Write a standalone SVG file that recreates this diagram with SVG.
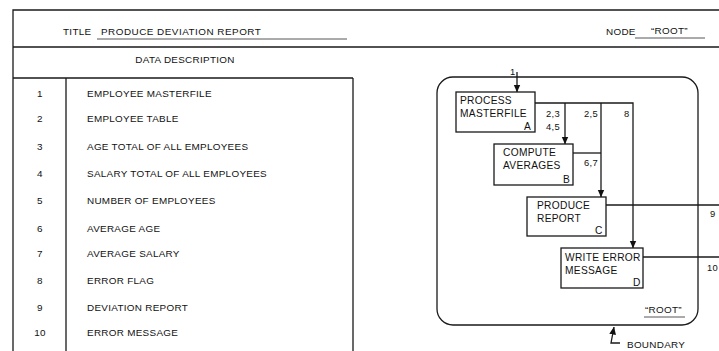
<svg xmlns="http://www.w3.org/2000/svg" width="719" height="351" viewBox="0 0 719 351">
  <defs>
    <marker id="arr" markerWidth="8" markerHeight="8" refX="7.5" refY="4" orient="auto" markerUnits="userSpaceOnUse" viewBox="0 0 8 8">
      <path d="M0,0.6 L7.8,4 L0,7.4 Z" fill="#111"/>
    </marker>
  </defs>
  <style>
    text { font-family: "Liberation Sans", Arial, sans-serif; font-size: 9.9px; fill: #111; letter-spacing: 0.3px; }
    .num { text-anchor: middle; }
    .frame { fill: none; stroke: #1a1a1a; stroke-width: 1.3; }
    .ul { fill: none; stroke: #444; stroke-width: 0.9; }
    .box { fill: #fff; stroke: #1a1a1a; stroke-width: 1.3; }
    .flow { fill: none; stroke: #1a1a1a; stroke-width: 1.3; }
    .lbl { font-size: 9.4px; }
    .dg { font-size: 10.2px; }
  </style>
  <rect width="719" height="351" fill="#fff"/>

  <!-- form frame -->
  <g id="form">
    <path class="frame" d="M13,351 V10 H719 M13,47 H719 M13,78 H353 M66,78 V351 M353,78 V351"/>
    <text x="63" y="35">TITLE</text>
    <path class="ul" d="M97,39 H347"/>
    <text x="101" y="35" style="letter-spacing:0.5px">PRODUCE DEVIATION REPORT</text>
    <text x="606" y="35">NODE</text>
    <path class="ul" d="M635,38 H705"/>
    <text x="651" y="34">“ROOT”</text>
    <text x="185" y="63" text-anchor="middle">DATA DESCRIPTION</text>
  </g>

  <!-- data description table -->
  <g id="data-table">
    <text class="num" x="40" y="97">1</text><text x="87" y="97">EMPLOYEE MASTERFILE</text>
    <text class="num" x="40" y="122">2</text><text x="87" y="122">EMPLOYEE TABLE</text>
    <text class="num" x="40" y="150">3</text><text x="87" y="150">AGE TOTAL OF ALL EMPLOYEES</text>
    <text class="num" x="40" y="177">4</text><text x="87" y="177">SALARY TOTAL OF ALL EMPLOYEES</text>
    <text class="num" x="40" y="204">5</text><text x="87" y="204">NUMBER OF EMPLOYEES</text>
    <text class="num" x="40" y="232">6</text><text x="87" y="232">AVERAGE AGE</text>
    <text class="num" x="40" y="257">7</text><text x="87" y="257">AVERAGE SALARY</text>
    <text class="num" x="40" y="284">8</text><text x="87" y="284">ERROR FLAG</text>
    <text class="num" x="40" y="311">9</text><text x="87" y="311">DEVIATION REPORT</text>
    <text class="num" x="40" y="336">10</text><text x="87" y="336">ERROR MESSAGE</text>
  </g>

  <!-- boundary of node ROOT -->
  <g id="boundary">
    <rect class="frame" x="437" y="77" width="261" height="248" rx="16" ry="16"/>
    <text x="645" y="313">“ROOT”</text>
    <path class="ul" d="M644,317 H685"/>
    <path class="flow" d="M620,343 H611 L614,327" marker-end="url(#arr)"/>
    <text x="627" y="348">BOUNDARY</text>
  </g>

  <!-- connectors -->
  <g id="connectors">
    <path class="flow" d="M517,72 V92" marker-end="url(#arr)"/>
    <path class="flow" d="M535,103 H633 V248" marker-end="url(#arr)"/>
    <path class="flow" d="M565,103 V144" marker-end="url(#arr)"/>
    <path class="flow" d="M601,103 V197" marker-end="url(#arr)"/>
    <path class="flow" d="M573,153 H601"/>
    <path class="flow" d="M606,205 H719"/>
    <path class="flow" d="M643,257 H719"/>
    <text class="lbl" x="510" y="75">1</text>
    <text class="lbl" x="546" y="117">2,3</text>
    <text class="lbl" x="546" y="130">4,5</text>
    <text class="lbl" x="584" y="117">2,5</text>
    <text class="lbl" x="624" y="117">8</text>
    <text class="lbl" x="584" y="166">6,7</text>
    <text class="lbl" x="710" y="217">9</text>
    <text class="lbl" x="707" y="271">10</text>
  </g>

  <!-- processes -->
  <g id="node-a">
    <rect class="box" x="456" y="92" width="79" height="40"/>
    <text class="dg" x="460" y="104">PROCESS</text>
    <text class="dg" x="460" y="117">MASTERFILE</text>
    <text class="dg" x="524" y="130">A</text>
  </g>
  <g id="node-b">
    <rect class="box" x="494" y="144" width="79" height="41"/>
    <text class="dg" x="503" y="156">COMPUTE</text>
    <text class="dg" x="503" y="169">AVERAGES</text>
    <text class="dg" x="563" y="183">B</text>
  </g>
  <g id="node-c">
    <rect class="box" x="527" y="197" width="79" height="39"/>
    <text class="dg" x="537" y="209">PRODUCE</text>
    <text class="dg" x="537" y="222">REPORT</text>
    <text class="dg" x="595" y="234">C</text>
  </g>
  <g id="node-d">
    <rect class="box" x="561" y="248" width="82" height="40"/>
    <text class="dg" x="565" y="261">WRITE ERROR</text>
    <text class="dg" x="565" y="274">MESSAGE</text>
    <text class="dg" x="633" y="286">D</text>
  </g>
</svg>
